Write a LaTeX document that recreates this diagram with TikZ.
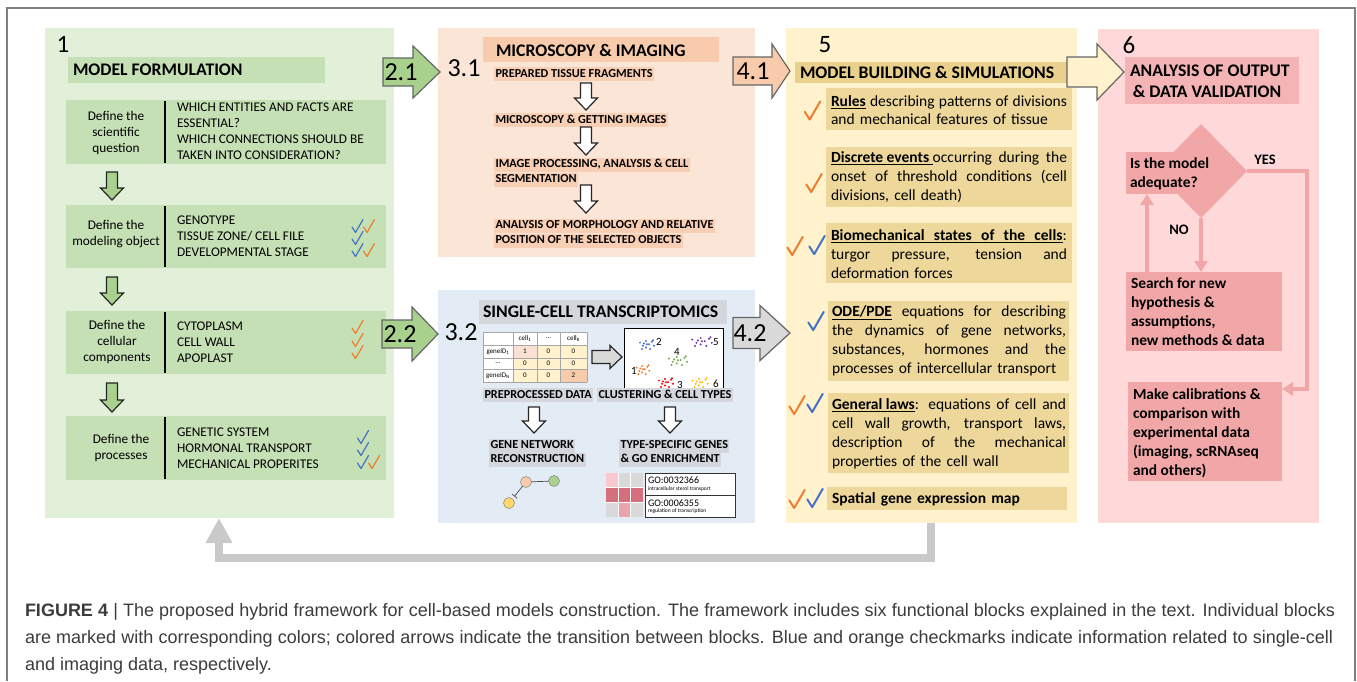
\documentclass[tikz,border=0pt]{standalone}
\usepackage{fontspec}
\setmainfont{Carlito}
\newfontfamily\capfont{Liberation Sans}
\usetikzlibrary{arrows.meta,shapes.geometric,calc}
\definecolor{gA}{HTML}{E2F0D9}
\definecolor{gB}{HTML}{C5E0B4}
\definecolor{gC}{HTML}{A9D18E}
\definecolor{pA}{HTML}{FBE5D6}
\definecolor{pB}{HTML}{F8CBAD}
\definecolor{pC}{HTML}{F8CFB4}
\definecolor{bA}{HTML}{E3EBF5}
\definecolor{bB}{HTML}{D3D7DD}
\definecolor{yA}{HTML}{FFF2CC}
\definecolor{yB}{HTML}{E9D08C}
\definecolor{yC}{HTML}{EDD79A}
\definecolor{rA}{HTML}{FFD9DA}
\definecolor{rB}{HTML}{F4B3B4}
\definecolor{rC}{HTML}{F1A7A8}
\definecolor{ochk}{HTML}{ED7D31}
\definecolor{bchk}{HTML}{4472C4}
\definecolor{retc}{HTML}{C9C9C9}
\definecolor{grayL}{HTML}{D9D9D9}
\definecolor{capc}{HTML}{3C3C3C}
\definecolor{framec}{HTML}{808080}
\definecolor{tcA}{HTML}{FBE1D3}
\definecolor{cPur}{HTML}{7030A0}
\definecolor{cGrn}{HTML}{70AD47}
\definecolor{cRed}{HTML}{FF0000}
\definecolor{cYel}{HTML}{FFC000}
\definecolor{gnY}{HTML}{FFD966}
\definecolor{hmA}{HTML}{F8C9CE}
\definecolor{hmB}{HTML}{D4707C}
\definecolor{hmC}{HTML}{E9A3AC}
\newcommand\fsz[2]{\fontsize{#1}{#2}\selectfont}
\newcommand\jline[2]{{\spaceskip=0pt\xspaceskip=0pt\makebox[#1][s]{#2}}}
\newcommand\DArr[4]{\draw[#1] ({#2-5.5},#3) -- ({#2+5.5},#3) -- ({#2+5.5},{#4-12}) -- ({#2+11.5},{#4-12}) -- (#2,#4) -- ({#2-11.5},{#4-12}) -- ({#2-5.5},{#4-12}) -- cycle;}
\newcommand\RArr[7]{\draw[#1] (#2,{#5-#6}) -- (#3,{#5-#6}) -- (#3,{#5-#7}) -- (#4,#5) -- (#3,{#5+#7}) -- (#3,{#5+#6}) -- (#2,{#5+#6}) -- cycle;}
\tikzset{
 every node/.style={inner sep=0pt, outer sep=0pt},
 num/.style={font=\fsz{25}{25}},
 numb/.style={font=\fsz{26}{26}},
 hdrtxt/.style={font=\bfseries\fsz{17.7}{21}, anchor=west, align=left},
 ltxt/.style={font=\fsz{13.3}{16}, align=center},
 rtxt/.style={font=\fsz{13.3}{16}, align=left, anchor=west},
 pitem/.style={font=\bfseries\fsz{12.2}{14}, fill=pC, anchor=west, inner xsep=1.5pt, inner ysep=1pt, text height=9pt, text depth=3pt},
 glab/.style={pitem, fill=bB},
 ytxt/.style={font=\fsz{15.5}{19}, align=left, text width=236pt},
 ptxt/.style={font=\bfseries\fsz{15.4}{19}, align=left},
 pline/.style={line width=4pt, draw=rC, -{Triangle[length=11pt,width=13pt]}},
 garr/.style={fill=gC, draw=black!85, line width=1.2pt},
 warr/.style={fill=white, draw=black!85, line width=1.2pt},
 barr/.style={draw=gray!80!black, line width=1.2pt},
 chk/.pic={\draw[line cap=round, line join=round] (-5.5,1) -- (-2,6.5) -- (5.5,-6.5);},
 tnum/.style={font=\fsz{7}{8}},
 captxt/.style={font=\capfont\fsz{18}{20}, text=capc, anchor=base west},
}
\begin{document}
\begin{tikzpicture}[x=1pt,y=-1pt]
\useasboundingbox (0,0) rectangle (1357,681);
\fill[white] (0,0) rectangle (1357,681);
\draw[framec, line width=1.2pt] (7,681) -- (7,8) -- (1355,8) -- (1355,681);

% ================= BLOCK 1 =================
\fill[gA] (45,28) rectangle (394,518);
\node[num] (n1) at (63,44) {1};
\fill[gB] (68,57) rectangle (325,83);
\node[hdrtxt] (h1) at (73,70) {MODEL FORMULATION};
\foreach \t/\b in {100/164, 205/268, 311/374, 416/480} {
  \fill[gB] (66,\t) rectangle (386,\b);
  \draw[line width=1.3pt] (165,\t+1) -- (165,\b-1);
}
\node[ltxt] (l1) at (116,133) {Define the\\scientific\\question};
\node[ltxt] (l2) at (116,234) {Define the\\modeling object};
\node[ltxt] (l3) at (117,342) {Define the\\cellular\\components};
\node[ltxt] (l4) at (121,448) {Define the\\processes};
\node[rtxt] (q1) at (177,131.5) {WHICH ENTITIES AND FACTS ARE\\ESSENTIAL?\\WHICH CONNECTIONS SHOULD BE\\TAKEN INTO CONSIDERATION?};
\node[rtxt] (q2) at (177,236) {GENOTYPE\\TISSUE ZONE/ CELL FILE\\DEVELOPMENTAL STAGE};
\node[rtxt] (q3) at (177,342) {CYTOPLASM\\CELL WALL\\APOPLAST};
\node[rtxt] (q4) at (177,448) {GENETIC SYSTEM\\HORMONAL TRANSPORT\\MECHANICAL PROPERITES};
\pic[color=bchk, line width=1.2pt] at (357.5,226) {chk};
\pic[color=ochk, line width=1.2pt] at (369,226) {chk};
\pic[color=bchk, line width=1.2pt] at (357.5,238) {chk};
\pic[color=bchk, line width=1.2pt] at (357.5,250) {chk};
\pic[color=ochk, line width=1.2pt] at (369,250) {chk};
\pic[color=ochk, line width=1.2pt] at (357.5,327) {chk};
\pic[color=ochk, line width=1.2pt] at (357.5,340) {chk};
\pic[color=ochk, line width=1.2pt] at (357.5,352) {chk};
\pic[color=bchk, line width=1.2pt] at (363,437) {chk};
\pic[color=bchk, line width=1.2pt] at (363,449) {chk};
\pic[color=bchk, line width=1.2pt] at (363,462) {chk};
\pic[color=ochk, line width=1.2pt] at (374,462) {chk};
\DArr{garr}{112}{172}{200}
\DArr{garr}{112}{277}{305}
\DArr{garr}{112}{383}{412}

% ================= BLOCK 3.1 =================
\fill[pA] (438,28) rectangle (755,257);
\fill[pB] (483,37) rectangle (719,62);
\node[hdrtxt] (h31) at (496,50) {MICROSCOPY \& IMAGING};
\node[numb] (n31) at (464,68) {3.1};
\node[pitem] (m1) at (494,74) {PREPARED TISSUE FRAGMENTS};
\node[pitem] (m2) at (494,120) {MICROSCOPY \& GETTING IMAGES};
\node[pitem] (m3a) at (494,164.5) {IMAGE PROCESSING, ANALYSIS \& CELL};
\node[pitem] (m3b) at (494,179.5) {SEGMENTATION};
\node[pitem] (m4a) at (494,225.5) {ANALYSIS OF MORPHOLOGY AND RELATIVE};
\node[pitem] (m4b) at (494,240.5) {POSITION OF THE SELECTED OBJECTS};
\DArr{warr}{586}{83}{110}
\DArr{warr}{586}{127}{155}
\DArr{warr}{586}{185}{213}

% ================= BLOCK 3.2 =================
\fill[bA] (438,290) rectangle (755,523);
\fill[bB] (479,300) rectangle (727,324);
\node[hdrtxt] (h32) at (483,312) {SINGLE-CELL TRANSCRIPTOMICS};
\node[numb] (n32) at (461,332) {3.2};
% table
\fill[white] (483,332) rectangle (587,382);
\fill[yA] (513,345) rectangle (587,382);
\fill[tcA] (513,345) rectangle (537,358);
\fill[pB] (560,369.5) rectangle (587,382);
\foreach \xx in {483,513,537,560,587} \draw[gray!70, line width=0.5pt] (\xx,332) -- (\xx,382);
\foreach \yy in {332,345,358,369.5,382} \draw[gray!70, line width=0.5pt] (483,\yy) -- (587,\yy);
\node[tnum] (tc1) at (525,338.5) {cell\textsubscript{1}};
\node[tnum] (tc2) at (548.5,338.5) {...};
\node[tnum] (tc3) at (573.5,338.5) {cell\textsubscript{K}};
\node[tnum] (tr1) at (498,351.5) {geneID\textsubscript{1}};
\node[tnum] (tr2) at (498,363.5) {...};
\node[tnum] (tr3) at (498,375.5) {geneID\textsubscript{N}};
\node[tnum] (v11) at (525,351.5) {1};
\node[tnum] (v12) at (548.5,351.5) {0};
\node[tnum] (v13) at (573.5,351.5) {0};
\node[tnum] (v21) at (525,363.5) {0};
\node[tnum] (v22) at (548.5,363.5) {0};
\node[tnum] (v23) at (573.5,363.5) {0};
\node[tnum] (v31) at (525,375.5) {0};
\node[tnum] (v32) at (548.5,375.5) {0};
\node[tnum] (v33) at (573.5,375.5) {2};
\RArr{fill=grayL, draw=black!85, line width=1.2pt}{592}{610}{622}{357}{6.5}{11.5}
% clustering
\draw[black, line width=1pt, fill=white] (624,328) rectangle (723,392);
\foreach \cx/\cy/\cc/\sx in {647/345/bchk/1, 702/342/cPur/1.4, 678/361/cGrn/1.3, 643/370/ochk/0.9, 666/383/cRed/1, 700/383/cYel/1.1} {
  \foreach \dx/\dy in {-7/-3, -4/1, -1/-5, 2/-1, 5/-4, 7/1, -5/5, -1/3, 3/5, 6/-6, 0/-1, -3/-2}
    \fill[\cc] (\cx+\sx*\dx, \cy+0.8*\dy) circle (1.1pt);
}
\node[font=\fsz{11}{11}] (k2) at (659,342) {2};
\node[font=\fsz{11}{11}] (k5) at (716,342) {5};
\node[font=\fsz{11}{11}] (k4) at (677,352) {4};
\node[font=\fsz{11}{11}] (k1) at (634,371) {1};
\node[font=\fsz{11}{11}] (k3) at (680,385) {3};
\node[font=\fsz{11}{11}] (k6) at (716,384) {6};
\node[glab] (pd) at (483,395) {PREPROCESSED DATA};
\node[glab] (ct) at (597,395) {CLUSTERING \& CELL TYPES};
\DArr{warr}{534}{407}{433}
\DArr{warr}{670}{407}{433}
\node[glab] (gn1) at (489,445.5) {GENE NETWORK};
\node[glab] (gn2) at (489,459.5) {RECONSTRUCTION};
\node[glab] (ts1) at (619,445.5) {TYPE-SPECIFIC GENES};
\node[glab] (ts2) at (619,459.5) {\& GO ENRICHMENT};
% gene network
\node[circle, fill=pB, draw=gray, line width=0.5pt, minimum size=11pt] (gp) at (526,482) {};
\node[circle, fill=gC, draw=gray, line width=0.5pt, minimum size=11pt] (gg) at (554,481) {};
\node[circle, fill=gnY, draw=gray, line width=0.5pt, minimum size=11pt] (gy) at (509,503) {};
\draw[black!70, line width=0.7pt] (gp) -- (gg);
\draw[black!70, line width=0.7pt, -{Bar[width=7pt]}, shorten >=3pt] (gp) -- (gy);
% heatmap
\fill[hmA] (606,473) rectangle (618.3,487.7);
\fill[grayL] (618.3,473) rectangle (630.6,487.7);
\fill[grayL] (630.6,473) rectangle (643,487.7);
\fill[hmB] (606,487.7) rectangle (643,502.4);
\fill[grayL] (606,502.4) rectangle (618.3,517);
\fill[hmC] (618.3,502.4) rectangle (630.6,517);
\fill[grayL] (630.6,502.4) rectangle (643,517);
\draw[white, line width=0.6pt] (618.3,473) -- (618.3,517) (630.6,473) -- (630.6,517) (606,487.7) -- (643,487.7) (606,502.4) -- (643,502.4);
\node[draw=black!80, line width=0.6pt, fill=white, minimum width=90pt, minimum height=44pt, anchor=north west] (gob) at (645,473) {};
\draw[black!80, line width=0.6pt] (gob.west) -- (gob.east);
\node[font=\fsz{10}{10}, anchor=west] (go1) at (648,480.5) {GO:0032366};
\node[font=\fsz{5.5}{6}, anchor=west] (go1b) at (648,489) {intracellular sterol transport};
\node[font=\fsz{10}{10}, anchor=west] (go2) at (648,503) {GO:0006355};
\node[font=\fsz{5.5}{6}, anchor=west] (go2b) at (648,511.5) {regulation of transcription};

% ================= BLOCK 5 =================
\fill[yA] (786,28) rectangle (1077,523);
\node[num] (n5) at (825,45) {5};
\fill[yB] (795,62) rectangle (1067,83);
\node[hdrtxt] (h5) at (800,72.5) {MODEL BUILDING \& SIMULATIONS};
\fill[yC] (826,88) rectangle (1072,130);
\fill[yC] (826,147) rectangle (1072,207);
\fill[yC] (826,223) rectangle (1072,283);
\fill[yC] (828,301) rectangle (1069,381);
\fill[yC] (828,393) rectangle (1069,473);
\fill[yC] (827,487) rectangle (1067,510);
\node[ytxt, font=\fsz{15.5}{18}] (y1) at (949,110.5) {\jline{236pt}{\underline{\textbf{Rules}} describing patterns of divisions}\\and mechanical features of tissue};
\node[ytxt] (y2) at (949,177) {\jline{236pt}{\underline{\textbf{Discrete events\ }}occurring during the}\\\jline{236pt}{onset of threshold conditions (cell}\\divisions, cell death)};
\node[ytxt] (y3) at (949,254.5) {\makebox[236pt][l]{\underline{\jline{231.5pt}{\textbf{Biomechanical states of the cells}}}:}\\\jline{236pt}{turgor pressure, tension and}\\deformation forces};
\node[ytxt] (y4) at (950,341) {\jline{234pt}{\underline{\textbf{ODE/PDE}} equations for describing}\\\jline{234pt}{the dynamics of gene networks,}\\\jline{234pt}{substances, hormones and the}\\processes of intercellular transport};
\node[ytxt] (y5) at (950,433.5) {\jline{234pt}{\underline{\textbf{General laws}}: equations of cell and}\\\jline{234pt}{cell wall growth, transport laws,}\\\jline{234pt}{description of the mechanical}\\properties of the cell wall};
\node[ytxt] (y6) at (950,499) {\textbf{Spatial gene expression map}};
\pic[color=ochk, line width=2pt, scale=1.4] at (812.5,110.5) {chk};
\pic[color=ochk, line width=2pt, scale=1.4] at (814,183) {chk};
\pic[color=ochk, line width=2pt, scale=1.4] at (795,246) {chk};
\pic[color=bchk, line width=2pt, scale=1.4] at (817,245) {chk};
\pic[color=bchk, line width=2pt, scale=1.4] at (816,321) {chk};
\pic[color=ochk, line width=2pt, scale=1.4] at (797,405) {chk};
\pic[color=bchk, line width=2pt, scale=1.4] at (815,403) {chk};
\pic[color=ochk, line width=2pt, scale=1.4] at (797,499) {chk};
\pic[color=bchk, line width=2pt, scale=1.4] at (815,498) {chk};

% ================= BLOCK 6 =================
\fill[rA] (1098,29) rectangle (1319,523);
\node[num] (n6) at (1129,45) {6};
\fill[rB] (1125,57) rectangle (1299,104);
\node[hdrtxt] (h6) at (1130,81.5) {ANALYSIS OF OUTPUT\\\,\& DATA VALIDATION};
\node[diamond, fill=rC, minimum width=92pt, minimum height=94pt] (dia) at (1201,171) {};
\node[fill=rC, minimum width=75pt, minimum height=42pt, anchor=north west] (isq) at (1126,152) {};
\node[ptxt, anchor=west] (isqt) at (1130,173.5) {Is the model\\adequate?};
\node[fill=rC, minimum width=156pt, minimum height=79pt, anchor=north west] (srch) at (1126,272) {};
\node[ptxt, anchor=west] (srcht) at (1131,311.5) {Search for new\\hypothesis \&\\assumptions,\\new methods \& data};
\node[fill=rC, minimum width=154pt, minimum height=99pt, anchor=north west] (cal) at (1128,382) {};
\node[ptxt, anchor=west] (calt) at (1133,433) {Make calibrations \&\\comparison with\\experimental data\\(imaging, scRNAseq\\and others)};
\draw[pline] (dia.east) -- ++(60,0) |- ($(cal.north east)+(0,7)$);
\draw[pline] (dia.south) -- (dia.south |- srch.north);
\draw[pline] ($(srch.north west)+(21,0)$) -- ($(isq.south west)+(21,0)$);
\node[font=\bfseries\fsz{14.5}{15}] (yes) at (1265,160) {YES};
\node[font=\bfseries\fsz{14.5}{15}] (no) at (1179,230) {NO};

% ================= BLOCK ARROWS =================
\RArr{barr, fill=gC}{383}{413}{440}{72}{14}{26}
\node[numb] (a21) at (401,72) {2.1};
\RArr{barr, fill=gC}{382}{412}{438}{334}{14}{27}
\node[numb] (a22) at (400,334) {2.2};
\RArr{barr, fill=pB}{733}{772}{790}{71}{14}{27}
\node[numb] (a41) at (753,71) {4.1};
\RArr{barr, fill=grayL}{733}{760}{790}{333}{15.5}{27.5}
\node[numb] (a42) at (750,333) {4.2};
\RArr{barr, fill=yA}{1067}{1097}{1124}{72}{15}{28}

% return arrow
\coordinate (rs) at (931,523);
\coordinate (re) at (219,518);
\draw[line width=8pt, retc, -{Triangle[length=25pt,width=25pt]}] (rs) -- (931,558) -- (219,558) -- (re);

% ================= CAPTION =================
\node[captxt] (cap1) at (25,616) {\jline{1310pt}{\textbf{FIGURE 4} | The proposed hybrid framework for cell-based models construction. The framework includes six functional blocks explained in the text. Individual blocks}};
\node[captxt] (cap2) at (25,643) {\jline{1308pt}{are marked with corresponding colors; colored arrows indicate the transition between blocks. Blue and orange checkmarks indicate information related to single-cell}};
\node[captxt] (cap3) at (25,670) {and imaging data, respectively.};
\end{tikzpicture}
\end{document}
